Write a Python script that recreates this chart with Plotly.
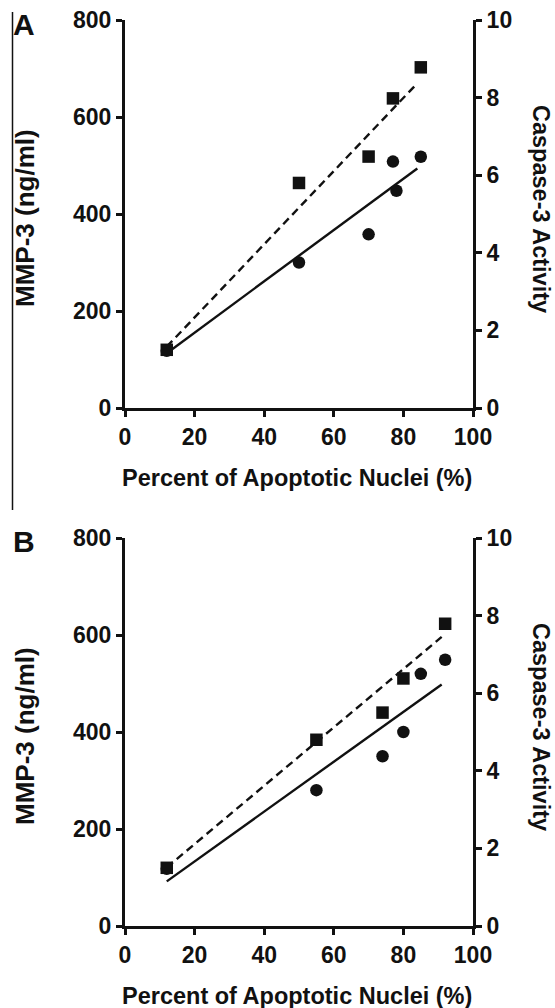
import plotly.graph_objects as go

W, H = 555, 1008

# ---------------- data ----------------
x_tickvals = [0, 20, 40, 60, 80, 100]
mmp_tickvals = [0, 200, 400, 600, 800]
casp_tickvals = [0, 2, 4, 6, 8, 10]

# Panel A
A_circle_x = [12, 50, 70, 77, 78, 85]
A_circle_mmp = [118, 300, 358, 508, 448, 518]
A_square_x = [12, 50, 70, 77, 85]
A_square_casp = [1.5, 5.8, 6.48, 7.98, 8.78]
A_solid_x = [12, 84]
A_solid_mmp = [113, 494]
A_dash_x = [12, 84]
A_dash_casp = [1.58, 8.37]

# Panel B
B_circle_x = [12, 55, 74, 80, 85, 92]
B_circle_mmp = [118, 280, 350, 400, 520, 549]
B_square_x = [12, 55, 74, 80, 92]
B_square_casp = [1.5, 4.8, 5.5, 6.38, 7.79]
B_solid_x = [12, 91]
B_solid_mmp = [92, 498]
B_dash_x = [12, 91]
B_dash_casp = [1.51, 7.45]

x_title = "Percent of Apoptotic Nuclei (%)"
left_title = "MMP-3 (ng/ml)"
right_title = "Caspase-3 Activity"

# ---------------- styling ----------------
FONT = "Liberation Sans, Arial, sans-serif"
INK = "#111111"
tick_font = dict(family=FONT, size=23, color=INK, weight="bold")
title_font = dict(family=FONT, size=23.5, color=INK, weight="bold")
left_title_font = dict(family=FONT, size=26, color=INK, weight="bold")

px_x0, px_x1 = 125, 473
panels = {
    "A": (20, 408),
    "B": (538, 926),
}
label_y = {"A": 24, "B": 541}

def ydom(top, bottom):
    return [(H - bottom) / H, (H - top) / H]

fig = go.Figure()

def add_panel(xa, ya_l, ya_r, cx, cy, sx, sy, lx, ly, dx, dy):
    fig.add_trace(go.Scatter(x=lx, y=ly, xaxis=xa, yaxis=ya_l, mode="lines",
                             line=dict(color=INK, width=2.4), showlegend=False))
    fig.add_trace(go.Scatter(x=dx, y=dy, xaxis=xa, yaxis=ya_r, mode="lines",
                             line=dict(color=INK, width=2.4, dash="8px,5px"), showlegend=False))
    fig.add_trace(go.Scatter(x=cx, y=cy, xaxis=xa, yaxis=ya_l, mode="markers",
                             marker=dict(symbol="circle", size=12.5, color=INK), showlegend=False))
    fig.add_trace(go.Scatter(x=sx, y=sy, xaxis=xa, yaxis=ya_r, mode="markers",
                             marker=dict(symbol="square", size=12.5, color=INK), showlegend=False))

add_panel("x", "y", "y2", A_circle_x, A_circle_mmp, A_square_x, A_square_casp,
          A_solid_x, A_solid_mmp, A_dash_x, A_dash_casp)
add_panel("x2", "y3", "y4", B_circle_x, B_circle_mmp, B_square_x, B_square_casp,
          B_solid_x, B_solid_mmp, B_dash_x, B_dash_casp)

xdom = [px_x0 / W, px_x1 / W]
axis_common = dict(showline=True, linecolor=INK, linewidth=3, ticks="outside",
                   ticklen=6, tickwidth=3, tickcolor=INK, showgrid=False,
                   zeroline=False, tickfont=tick_font, automargin=False)

layout = dict(
    width=W, height=H, margin=dict(l=0, r=0, t=0, b=0),
    paper_bgcolor="white", plot_bgcolor="white", showlegend=False,
)
for i, key in enumerate(["A", "B"]):
    top, bottom = panels[key]
    xn = "xaxis" if i == 0 else "xaxis2"
    yl = "yaxis" if i == 0 else "yaxis3"
    yr = "yaxis2" if i == 0 else "yaxis4"
    xref = "x" if i == 0 else "x2"
    ylref = "y" if i == 0 else "y3"
    layout[xn] = dict(domain=xdom, range=[0, 100], tickvals=x_tickvals,
                      anchor=ylref, **axis_common)
    layout[yl] = dict(domain=ydom(top, bottom), range=[0, 800], tickvals=mmp_tickvals,
                      anchor=xref, **axis_common)
    layout[yr] = dict(domain=ydom(top, bottom), range=[0, 10], tickvals=casp_tickvals,
                      anchor=xref, overlaying=ylref, side="right", **axis_common)

fig.update_layout(**layout)

annotations = []
for key, (top, bottom) in panels.items():
    cy = (top + bottom) / 2
    annotations.append(dict(text=x_title, x=(px_x0 + px_x1 - 4) / 2 / W, y=1 - (bottom + 70) / H,
                            xref="paper", yref="paper", showarrow=False, font=title_font,
                            xanchor="center", yanchor="middle"))
    annotations.append(dict(text=left_title, x=25 / W, y=1 - (cy + 4) / H, textangle=-90,
                            xref="paper", yref="paper", showarrow=False, font=left_title_font,
                            xanchor="center", yanchor="middle"))
    annotations.append(dict(text=right_title, x=541 / W, y=1 - (cy - 5) / H, textangle=90,
                            xref="paper", yref="paper", showarrow=False, font=title_font,
                            xanchor="center", yanchor="middle"))
    annotations.append(dict(text=key, x=11 / W, y=1 - label_y[key] / H,
                            xref="paper", yref="paper", showarrow=False,
                            font=dict(family=FONT, size=30, color=INK, weight="bold"),
                            xanchor="left", yanchor="middle"))
fig.update_layout(annotations=annotations)

fig.add_shape(type="line", xref="paper", yref="paper", x0=12.5 / W, x1=12.5 / W,
              y0=1 - 12 / H, y1=1 - 510 / H, line=dict(color=INK, width=1.5))

fig.write_html("out.html")
